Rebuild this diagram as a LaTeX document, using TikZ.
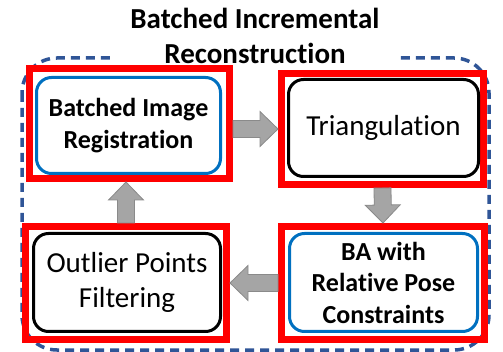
\documentclass[tikz,border=0pt]{standalone}
\usepackage{fontspec}
\setmainfont{Carlito}[Ligatures=CommonOff]
\usepackage{tikz}
\usetikzlibrary{calc}
\definecolor{framered}{HTML}{FF0000}
\definecolor{procblue}{HTML}{0070C0}
\definecolor{batchblue}{HTML}{2F5597}
\definecolor{arrowfill}{HTML}{A5A5A5}
\definecolor{arrowedge}{HTML}{8A8A8A}
\tikzset{
%%%%%%%%%%  Node styles
stageframe/.style={draw=framered, line width=7pt, inner sep=0pt},
procbox/.style={rounded corners=15pt, line width=3pt, align=center,
                inner sep=0pt},
blueproc/.style={procbox, draw=procblue,
                 font=\fontsize{26}{31.5}\selectfont\bfseries},
blackproc/.style={procbox, draw=black,
                  font=\fontsize{29}{35}\selectfont},
batchtitle/.style={fill=white, align=center, inner sep=2pt,
                   minimum width=290pt,
                   font=\fontsize{29}{35}\selectfont\bfseries},
%%%% different line styles:
batchframe/.style={draw=batchblue, line width=3.5pt, rounded corners=35pt,
                   dash pattern=on 9pt off 6pt},
%%%%%%% Block arrows between stages
fatarrow/.style={draw=arrowedge, fill=arrowfill, line width=0.8pt,
  to path={
    let \p1=($(\tikztotarget)!18pt!(\tikztostart)$) in
    ($(\tikztostart)!8.5pt!90:(\tikztotarget)$)
    -- ($(\p1)!8.5pt!90:(\tikztotarget)$)
    -- ($(\p1)!17.5pt!90:(\tikztotarget)$)
    -- (\tikztotarget)
    -- ($(\p1)!17.5pt!-90:(\tikztotarget)$)
    -- ($(\p1)!8.5pt!-90:(\tikztotarget)$)
    -- ($(\tikztostart)!8.5pt!-90:(\tikztotarget)$)
    -- cycle}}
}

\begin{document}
\begin{tikzpicture}[x=1pt,y=-1pt]
\useasboundingbox (0,0) rectangle (503,352);
\draw[batchframe] (22,58) rectangle (489,350);
\node[batchtitle] (title) at (255,35.5) {Batched Incremental\\Reconstruction};
%%%% stages
\node[stageframe, minimum width=200pt, minimum height=110pt] (regframe) at (129.5,123.5) {};
\node[stageframe, minimum width=202pt, minimum height=111pt] (triframe) at (382.5,129) {};
\node[stageframe, minimum width=201pt, minimum height=113pt] (outframe) at (126,283) {};
\node[stageframe, minimum width=203pt, minimum height=113pt] (baframe) at (383,283) {};
\node[blueproc, minimum width=184pt, minimum height=96pt] (reg) at (128.5,125.5) {Batched Image\\Registration};
\node[blackproc, minimum width=190pt, minimum height=97pt] (tri) at (383.5,128) {Triangulation};
\node[blackproc, minimum width=187pt, minimum height=98pt] (out) at (127,282.5) {Outlier Points\\Filtering};
\node[blueproc, minimum width=188pt, minimum height=98pt] (ba) at (383.5,282.5) {BA with\\Relative Pose\\Constraints};
%%%% flow
\draw[fatarrow] (regframe.east |- triframe.west) to (triframe.west);
\draw[fatarrow] (triframe.south) to (baframe.north);
\draw[fatarrow] (baframe.west) to (outframe.east);
\draw[fatarrow] (outframe.north) to (outframe.north |- regframe.south);
\end{tikzpicture}
\end{document}
